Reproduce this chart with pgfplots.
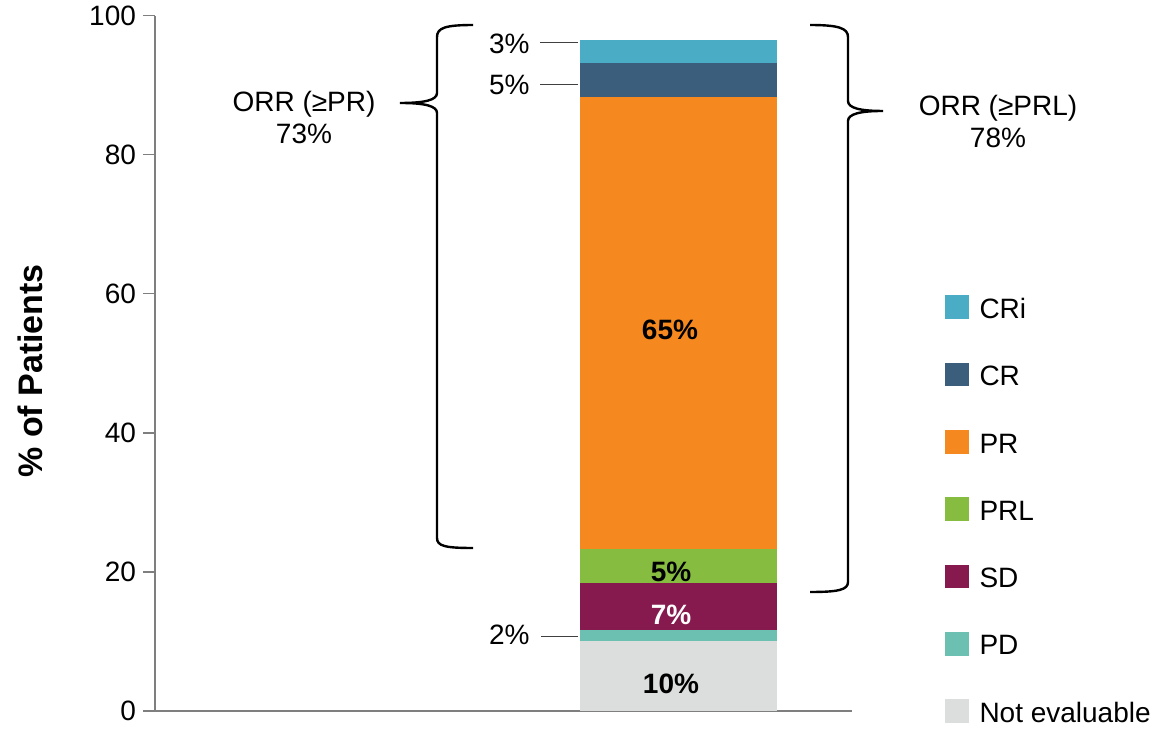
\documentclass[border=0pt]{standalone}
\usepackage{fontspec}
\setmainfont{Liberation Sans}
\usepackage{pgfplots}
\pgfplotsset{compat=1.18}
\definecolor{cri}{HTML}{4BACC6}
\definecolor{cr}{HTML}{3A5E7B}
\definecolor{pr}{HTML}{F5891F}
\definecolor{prl}{HTML}{86BC40}
\definecolor{sd}{HTML}{861A4F}
\definecolor{pd}{HTML}{6CC0B2}
\definecolor{ne}{HTML}{DCDDDD}
\definecolor{axgray}{HTML}{7F7F7F}
\begin{document}
\begin{tikzpicture}
\useasboundingbox (-77.5pt,-8.65pt) rectangle (502pt,355.35pt);
\begin{axis}[
 at={(0,0)}, anchor=south west,
 scale only axis, width=348.5pt, height=347.5pt,
 xmin=155, xmax=852, ymin=0, ymax=100,
 axis lines*=left,
 axis line style={axgray, line width=0.8pt},
 xtick=\empty,
 ytick={0,20,40,60,80,100},
 yticklabels={0,20,40,60,80,100},
 tick align=outside,
 major tick length=6pt,
 tick style={axgray, line width=0.8pt},
 yticklabel style={font=\fontsize{14}{16}\selectfont},
 ylabel={\% of Patients},
 ylabel style={font=\fontsize{17}{20}\selectfont\bfseries, at={(axis description cs:-0.179,0.489)}, anchor=center},
 ybar stacked, bar width=98.5pt,
 clip=false,
 reverse legend,
 legend style={at={(axis description cs:1.1334,0.598)}, anchor=north west, draw=none, fill=none, inner sep=0pt, outer sep=0pt, row sep=20.7pt, column sep=5.5pt, font=\fontsize{14}{16}\selectfont, nodes={inner sep=0pt}},
 legend cell align=left,
 legend image code/.code={\fill[#1] (0pt,-4.4pt) rectangle (11.75pt,7.35pt);},
]
\addplot[fill=ne, draw=none] coordinates {(678.5,10.07)};
\addlegendentry{Not evaluable}
\addplot[fill=pd, draw=none] coordinates {(678.5,1.54)};
\addlegendentry{PD}
\addplot[fill=sd, draw=none] coordinates {(678.5,6.81)};
\addlegendentry{SD}
\addplot[fill=prl, draw=none] coordinates {(678.5,4.80)};
\addlegendentry{PRL}
\addplot[fill=pr, draw=none] coordinates {(678.5,65.13)};
\addlegendentry{PR}
\addplot[fill=cr, draw=none] coordinates {(678.5,4.89)};
\addlegendentry{CR}
\addplot[fill=cri, draw=none] coordinates {(678.5,3.26)};
\addlegendentry{CRi}

\coordinate (l65) at (axis cs:670,54.8);
\coordinate (l5b) at (axis cs:671,20.0);
\coordinate (l7) at (axis cs:671,13.8);
\coordinate (l10) at (axis cs:671,3.9);
\coordinate (t3) at (axis cs:530,96.0);
\coordinate (t5) at (axis cs:530,90.0);
\coordinate (t2) at (axis cs:530,10.9);
\coordinate (orr1) at (axis cs:304,85.4);
\coordinate (orr2) at (axis cs:998,84.8);

% leader lines
\draw[black!75, line width=0.7pt] (axis cs:540,96.1) -- (axis cs:578,96.1);
\draw[black!75, line width=0.7pt] (axis cs:540,90.1) -- (axis cs:578,90.1);
\draw[black!75, line width=0.7pt] (axis cs:541,10.65) -- (axis cs:578,10.65);

% braces
\draw[black, line width=1.2pt] (axis cs:473,98.66) .. controls (axis cs:445,98.66) and (axis cs:437,98.23) .. (axis cs:437,96.93)
 -- (axis cs:437,88.88) .. controls (axis cs:437,87.87) and (axis cs:425,87.44) .. (axis cs:400,87.44)
 .. controls (axis cs:425,87.44) and (axis cs:437,87.01) .. (axis cs:437,86.0)
 -- (axis cs:437,24.85) .. controls (axis cs:437,23.70) and (axis cs:445,23.41) .. (axis cs:473,23.41);
\draw[black, line width=1.2pt] (axis cs:810,98.66) .. controls (axis cs:838,98.66) and (axis cs:848,98.23) .. (axis cs:848,96.93)
 -- (axis cs:848,87.73) .. controls (axis cs:848,86.72) and (axis cs:860,86.29) .. (axis cs:883,86.29)
 .. controls (axis cs:860,86.29) and (axis cs:848,85.85) .. (axis cs:848,84.85)
 -- (axis cs:848,18.52) .. controls (axis cs:848,17.37) and (axis cs:838,17.08) .. (axis cs:810,17.08);
\end{axis}
\node[font=\fontsize{14}{16}\selectfont\bfseries] at (l65) {65\%};
\node[font=\fontsize{14}{16}\selectfont\bfseries] at (l5b) {5\%};
\node[font=\fontsize{14}{16}\selectfont\bfseries, text=white] at (l7) {7\%};
\node[font=\fontsize{14}{16}\selectfont\bfseries] at (l10) {10\%};
\node[font=\fontsize{14}{16}\selectfont, anchor=east, inner sep=0pt] at (t3) {3\%};
\node[font=\fontsize{14}{16}\selectfont, anchor=east, inner sep=0pt] at (t5) {5\%};
\node[font=\fontsize{14}{16}\selectfont, anchor=east, inner sep=0pt] at (t2) {2\%};
\node[font=\fontsize{14}{16}\selectfont, align=center] at (orr1) {ORR (≥PR)\\73\%};
\node[font=\fontsize{14}{16}\selectfont, align=center] at (orr2) {ORR (≥PRL)\\78\%};
\end{tikzpicture}
\end{document}
